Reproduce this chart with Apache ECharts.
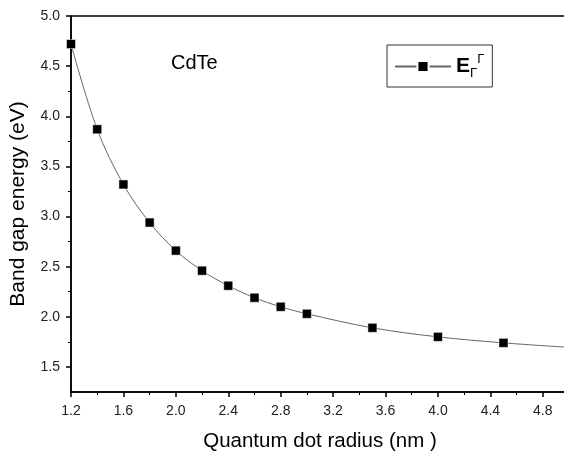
<!DOCTYPE html>
<html><head><meta charset="utf-8">
<script src="https://cdn.jsdelivr.net/npm/echarts@6/dist/echarts.min.js"></script>
<style>html,body{margin:0;padding:0;background:#fff}#c{width:564px;height:451px}</style>
</head><body><div id="c"></div>
<script>
var radius = [1.2, 1.4, 1.6, 1.8, 2.0, 2.2, 2.4, 2.6, 2.8, 3.0, 3.5, 4.0, 4.5, 5.0];
var bandGap = [4.72, 3.87, 3.32, 2.94, 2.66, 2.46, 2.31, 2.19, 2.10, 2.03, 1.89, 1.80, 1.74, 1.695];
var markerShown = [true, true, true, true, true, true, true, true, true, true, true, true, true, false];
var yMajorTicks = [1.5, 2.0, 2.5, 3.0, 3.5, 4.0, 4.5, 5.0];
var yMinorTicks = [1.75, 2.25, 2.75, 3.25, 3.75, 4.25, 4.75];
var seriesName = 'E';
var noteText = 'CdTe';

var font = '"Liberation Sans", Arial, sans-serif';
var data = radius.map(function (x, i) {
  var d = { value: [x, bandGap[i]] };
  if (!markerShown[i]) d.symbol = 'none';
  return d;
});

var chart = echarts.init(document.getElementById('c'), null, { renderer: 'canvas' });
chart.setOption({
  animation: false,
  backgroundColor: '#fff',
  textStyle: { fontFamily: font },
  grid: { left: 71, top: 16, right: -5, bottom: 59, containLabel: false, outerBoundsMode: 'none', show: true, borderColor: '#000', borderWidth: 1.5, backgroundColor: 'transparent' },
  legend: {
    left: 387, top: 45,
    padding: [8, 8, 7, 7],
    borderColor: '#333', borderWidth: 1,
    itemWidth: 56, itemHeight: 14, itemGap: 0,
    data: [seriesName],
    formatter: function () { return '{e|E}{s|Γ}{p|Γ}'; },
    textStyle: {
      color: '#000',
      rich: {
        e: { fontSize: 21, fontWeight: 'bold', fontFamily: font, color: '#000' },
        s: { fontSize: 13, fontFamily: font, color: '#000', verticalAlign: 'bottom', padding: [14, 0, 0, 0] },
        p: { fontSize: 13, fontFamily: font, color: '#000', verticalAlign: 'top', padding: [0, 0, 12, 0] }
      }
    }
  },
  graphic: [{
    type: 'text', left: 171, top: 53,
    style: { text: noteText, font: '20px ' + font, fill: '#000' }
  }],
  xAxis: {
    type: 'value', min: 1.2, max: 5.0, interval: 0.4,
    name: 'Quantum dot radius (nm )', nameLocation: 'middle', nameGap: 39,
    nameTextStyle: { fontSize: 20.5, color: '#000', fontFamily: font },
    axisLine: { show: true, onZero: false, lineStyle: { color: '#000', width: 1.5 } },
    axisTick: { show: true, length: 5, inside: false, lineStyle: { color: '#000', width: 1.5 } },
    minorTick: { show: true, splitNumber: 2, length: 3, lineStyle: { color: '#000', width: 1 } },
    splitLine: { show: false },
    axisLabel: { fontSize: 14, color: '#222', margin: 12, showMaxLabel: false, formatter: function (v) { return v.toFixed(1); } }
  },
  yAxis: [{
    type: 'value', min: 1.25, max: 5.0, interval: 0.25,
    name: 'Band gap energy (eV)', nameLocation: 'middle', nameGap: 42,
    nameTextStyle: { fontSize: 21, color: '#000', fontFamily: font },
    axisLine: { show: true, onZero: false, lineStyle: { color: '#000', width: 1.5 } },
    axisTick: { show: true, length: 5, customValues: yMajorTicks, lineStyle: { color: '#000', width: 1.5 } },
    splitLine: { show: false },
    axisLabel: { fontSize: 14, color: '#222', margin: 11, customValues: yMajorTicks, formatter: function (v) { return v.toFixed(1); } }
  }, {
    type: 'value', min: 1.25, max: 5.0, interval: 0.25, position: 'left',
    axisLine: { show: false },
    axisTick: { show: true, length: 3, customValues: yMinorTicks, lineStyle: { color: '#000', width: 1 } },
    splitLine: { show: false },
    axisLabel: { show: false }
  }],
  series: [{
    name: seriesName,
    type: 'line',
    smooth: 0.35,
    data: data,
    symbol: 'rect',
    symbolSize: 9,
    clip: true,
    lineStyle: { color: '#666', width: 1 },
    itemStyle: { color: '#000', borderColor: '#fff', borderWidth: 0.5 }
  }]
});
</script></body></html>
